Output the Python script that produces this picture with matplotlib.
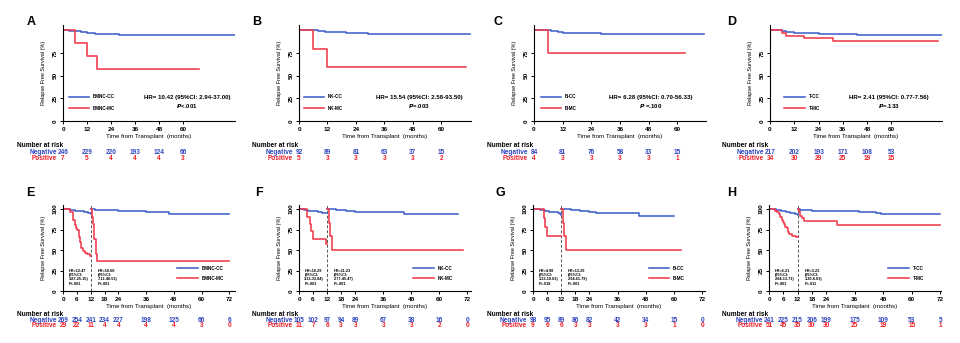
import matplotlib
matplotlib.use("Agg")
import matplotlib.pyplot as plt
import matplotlib.transforms as mtransforms

plt.rcParams['font.family'] = ['Liberation Sans', 'DejaVu Sans']
plt.rcParams['font.weight'] = 'bold'

BLUE = '#4060c8'
RED = '#f23a4a'
TAB_BLUE = '#2f45c0'
TAB_RED = '#f01e28'
LW = 1.15

# ---- full follow-up curves (top row) ----
a_cc_t = [0, 3, 6, 9, 12, 16, 20, 28, 36, 44, 46, 86]
a_cc_s = [100, 99.6, 99.0, 98.0, 96.8, 96.3, 95.9, 95.5, 95.2, 94.9, 94.5, 94.5]
a_mc_t = [0, 6, 12, 17, 68]
a_mc_s = [100, 85.7, 71.4, 57.1, 57.1]

b_cc_t = [0, 8, 11, 20, 29, 72]
b_cc_s = [100, 99.2, 98.2, 97.2, 96.0, 96.0]
b_mc_t = [0, 6, 12, 70.5]
b_mc_s = [100, 80.0, 60.0, 60.0]

c_cc_t = [0, 7, 10, 12, 20, 28, 71]
c_cc_s = [100, 99.2, 98.2, 97.4, 96.8, 95.7, 95.7]
c_mc_t = [0, 6, 63]
c_mc_s = [100, 75.0, 75.0]

d_cc_t = [0, 6, 8, 10, 12, 18, 24, 30, 38, 43, 85]
d_cc_s = [100, 99.5, 98.8, 97.8, 97.2, 96.9, 96.6, 96.2, 95.9, 94.8, 94.8]
d_mc_t = [0, 6, 8, 17, 31, 83]
d_mc_s = [100, 97.1, 94.1, 91.2, 87.8, 87.8]

# ---- landmark curves (bottom row): 0-12 months and from 12 months ----
e_cc_t1 = [0, 2, 3, 5, 7, 9, 11, 12]
e_cc_s1 = [100, 99.6, 98.9, 98.1, 97.2, 96.3, 95.2, 94.4]
e_mc_t1 = [0, 3.0, 4.2, 5.0, 5.6, 6.2, 6.8, 7.2, 7.9, 8.6, 9.4, 10.4, 11.5, 12]
e_mc_s1 = [100, 96.6, 86.6, 81.0, 77.5, 74.0, 66.0, 60.0, 53.0, 49.0, 47.0, 45.0, 42.5, 42.5]
e_cc_t2 = [12, 14, 18, 24, 30, 36, 42, 46, 72]
e_cc_s2 = [100, 99.4, 98.8, 98.2, 97.6, 97.0, 96.3, 94.6, 94.6]
e_mc_t2 = [12, 12.4, 12.8, 13.5, 14.1, 14.6, 72]
e_mc_s2 = [100, 90.9, 81.8, 63.6, 45.5, 36.4, 36.4]

f_cc_t1 = [0, 2, 4, 6, 8, 10, 12]
f_cc_s1 = [100, 99.0, 98.1, 97.1, 96.2, 95.2, 95.2]
f_mc_t1 = [0, 3.5, 4.5, 5.2, 6.0, 11.6, 12]
f_mc_s1 = [100, 90.9, 81.8, 72.7, 63.6, 57.3, 57.3]
f_cc_t2 = [12, 16, 20, 24, 28, 45, 68]
f_cc_s2 = [100, 99.0, 98.0, 97.0, 96.0, 94.0, 94.0]
f_mc_t2 = [12, 12.8, 13.4, 14.0, 70]
f_mc_s2 = [100, 83.3, 66.7, 50.0, 50.0]

g_cc_t1 = [0, 3, 5, 7, 9, 10.5, 11.5, 12]
g_cc_s1 = [100, 99.0, 97.9, 96.9, 95.9, 94.9, 93.9, 92.9]
g_mc_t1 = [0, 4.6, 5.3, 6.0, 12]
g_mc_s1 = [100, 88.9, 77.8, 66.7, 66.7]
g_cc_t2 = [12, 16, 20, 24, 27, 45, 60]
g_cc_s2 = [100, 98.8, 97.6, 96.4, 95.2, 91.8, 91.8]
g_mc_t2 = [12, 12.8, 13.4, 14.0, 63]
g_mc_s2 = [100, 83.3, 66.7, 50.0, 50.0]

h_cc_t1 = [0, 3, 5, 7, 9, 11, 12]
h_cc_s1 = [100, 99.2, 98.0, 96.7, 95.4, 94.0, 93.0]
h_mc_t1 = [0, 2.5, 3.5, 4.3, 4.8, 5.3, 5.8, 6.3, 6.9, 7.4, 8.0, 8.5, 9.8, 11.2, 12]
h_mc_s1 = [100, 98.0, 96.1, 94.1, 90.2, 86.3, 84.3, 82.4, 78.4, 76.5, 72.5, 69.6, 67.6, 65.6, 65.6]
h_cc_t2 = [12, 13, 14.5, 18, 24, 30, 38, 42, 45, 47, 72]
h_cc_s2 = [100, 99.2, 98.3, 97.9, 97.5, 97.1, 96.6, 96.0, 95.2, 93.5, 93.5]
h_mc_t2 = [12, 12.6, 13.2, 13.8, 14.6, 28.5, 72]
h_mc_s2 = [100, 97.1, 91.4, 88.6, 85.7, 80.6, 80.6]

# ---- numbers at risk ----
top_risk_t = [0, 12, 24, 36, 48, 60]
a_neg = [246, 229, 220, 193, 124, 66]
a_pos = [7, 5, 4, 4, 4, 3]
b_neg = [92, 89, 81, 63, 37, 15]
b_pos = [5, 3, 3, 3, 3, 2]
c_neg = [84, 81, 76, 58, 33, 15]
c_pos = [4, 3, 3, 3, 3, 1]
d_neg = [217, 202, 193, 171, 108, 53]
d_pos = [34, 30, 29, 25, 19, 15]

bot_risk_t = [0, 6, 12, 18, 24, 36, 48, 60, 72]
e_neg = [269, 254, 241, 234, 227, 198, 125, 66, 6]
e_pos = [29, 22, 11, 4, 4, 4, 4, 3, 0]
f_neg = [105, 102, 97, 94, 89, 67, 38, 16, 0]
f_pos = [11, 7, 6, 3, 3, 3, 3, 2, 0]
g_neg = [98, 95, 89, 86, 82, 42, 34, 15, 0]
g_pos = [9, 6, 6, 3, 3, 3, 3, 1, 0]
h_neg = [241, 225, 215, 206, 199, 175, 109, 53, 5]
h_pos = [51, 45, 35, 30, 30, 25, 19, 15, 1]

top_ticks = [0, 12, 24, 36, 48, 60]
bot_ticks = [0, 6, 12, 18, 24, 36, 48, 60, 72]

W, H = 960, 343
fig = plt.figure(figsize=(W / 100, H / 100), dpi=100)


def px_axes(left, top, width, height):
    return fig.add_axes([left / W, 1 - (top + height) / H, width / W, height / H])


def style_axes(ax, xlim, ylim, xticks, yticks):
    ax.set_xlim(*xlim)
    ax.set_ylim(*ylim)
    for s in ('top', 'right'):
        ax.spines[s].set_visible(False)
    for s in ('left', 'bottom'):
        ax.spines[s].set_linewidth(0.8)
    ax.set_xticks(xticks)
    ax.set_yticks(yticks)
    ax.set_yticklabels([str(v) for v in yticks], rotation=90, va='center')
    ax.tick_params(length=2.5, width=0.7, labelsize=4.6, pad=1.5)
    ax.set_xlabel('Time from Transplant  (months)', fontsize=4.4, labelpad=2)
    ax.set_ylabel('Relapse Free Survival (%)', fontsize=4.0)
    ax.yaxis.set_label_coords(-0.10, 0.5)


def risk_table(ax, times, neg, pos, y_title, y_neg, y_pos, x_title):
    trans = mtransforms.blended_transform_factory(ax.transData, fig.transFigure)
    lab = mtransforms.offset_copy(trans, fig=fig, x=-6, units='dots')
    fig.text(x_title / W, 1 - y_title / H, 'Number at risk', fontsize=4.7,
             va='center', ha='left', color='black')
    ax.text(0, 1 - y_neg / H, 'Negative', transform=lab, ha='right', va='center',
            fontsize=4.7, color=TAB_BLUE)
    ax.text(0, 1 - y_pos / H, 'Positive', transform=lab, ha='right', va='center',
            fontsize=4.7, color=TAB_RED)
    for t, n in zip(times, neg):
        ax.text(t, 1 - y_neg / H, str(n), transform=trans, ha='center', va='center',
                fontsize=4.7, color=TAB_BLUE)
    for t, n in zip(times, pos):
        ax.text(t, 1 - y_pos / H, str(n), transform=trans, ha='center', va='center',
                fontsize=4.7, color=TAB_RED)


# ---------------- top row ----------------
top_panels = [
    ('A', 63, 27, (0, 86), a_cc_t, a_cc_s, a_mc_t, a_mc_s, 'BMNC-CC', 'BMNC-MC',
     'HR= 10.42 (95%CI: 2.94-37.00)', '<.001', 0.72, 0.03, a_neg, a_pos, 17),
    ('B', 299, 252, (0, 72.5), b_cc_t, b_cc_s, b_mc_t, b_mc_s, 'NK-CC', 'NK-MC',
     'HR= 15.54 (95%CI: 2.58-93.50)', '=.003', 0.70, 0.025, b_neg, b_pos, 252),
    ('C', 534, 493, (0, 72), c_cc_t, c_cc_s, c_mc_t, c_mc_s, 'B-CC', 'B-MC',
     'HR= 6.28 (95%CI: 0.70-56.33)', ' =.100', 0.68, 0.035, c_neg, c_pos, 487),
    ('D', 770, 727, (0, 85), d_cc_t, d_cc_s, d_mc_t, d_mc_s, 'T-CC', 'T-MC',
     'HR= 2.41 (95%CI: 0.77-7.56)', '=.133', 0.69, 0.08, d_neg, d_pos, 722),
]

for (letter, left, lx, xlim, cct, ccs, mct, mcs, lab_cc, lab_mc,
     hr, pval, hx, legx, neg, pos, tx) in top_panels:
    ax = px_axes(left, 25, 172, 96)
    ax.step(cct, ccs, where='post', color=BLUE, lw=LW, label=lab_cc)
    ax.step(mct, mcs, where='post', color=RED, lw=LW, label=lab_mc)
    style_axes(ax, xlim, (0, 106), top_ticks, [0, 25, 50, 75])
    ax.legend(loc='lower left', bbox_to_anchor=(legx - 0.01, 0.08), frameon=False,
              fontsize=3.3, handlelength=4.5, labelspacing=1.5, borderpad=0,
              handletextpad=0.8)
    ax.text(hx, 0.25, hr, transform=ax.transAxes, ha='center', va='center', fontsize=4.4)
    ax.text(hx, 0.155, r'$\mathbf{\mathit{P}}$' + pval, transform=ax.transAxes,
            ha='center', va='center', fontsize=4.4)
    fig.text(lx / W, 1 - 22 / H, letter, fontsize=9, fontweight='bold', va='center')
    risk_table(ax, top_risk_t, neg, pos, 145, 152, 158.5, tx)

# ---------------- bottom row ----------------
bot_panels = [
    ('E', 63, 26, (0, 74.4), e_cc_t1, e_cc_s1, e_mc_t1, e_mc_s1, e_cc_t2, e_cc_s2,
     e_mc_t2, e_mc_s2, 'BMNC-CC', 'BMNC-MC',
     'HR=12.47\n(95%CI:\n1.87-25.15)\nP<.001', 'HR=18.60\n(95%CI:\n7.12-48.53)\nP<.001',
     0.66, e_neg, e_pos, 17),
    ('F', 299, 255, (0, 73.5), f_cc_t1, f_cc_s1, f_mc_t1, f_mc_s1, f_cc_t2, f_cc_s2,
     f_mc_t2, f_mc_s2, 'NK-CC', 'NK-MC',
     'HR=16.29\n(95%CI:\n3.13-33.84)\nP<.001', 'HR=11.23\n(95%CI:\n2.77-45.47)\nP=.001',
     0.66, f_neg, f_pos, 252),
    ('G', 533, 495, (0, 73.2), g_cc_t1, g_cc_s1, g_mc_t1, g_mc_s1, g_cc_t2, g_cc_s2,
     g_mc_t2, g_mc_s2, 'B-CC', 'B-MC',
     'HR=4.98\n(95%CI:\n1.33-18.63)\nP=.018', 'HR=13.29\n(95%CI:\n2.94-61.79)\nP=.001',
     0.67, g_neg, g_pos, 487),
    ('H', 769, 727, (0, 72.3), h_cc_t1, h_cc_s1, h_mc_t1, h_mc_s1, h_cc_t2, h_cc_s2,
     h_mc_t2, h_mc_s2, 'T-CC', 'T-MC',
     'HR=6.21\n(95%CI:\n2.84-13.71)\nP<.001', 'HR=3.23\n(95%CI:\n1.30-8.01)\nP=.011',
     0.69, h_neg, h_pos, 722),
]

for (letter, left, lx, xlim, cct1, ccs1, mct1, mcs1, cct2, ccs2, mct2, mcs2,
     lab_cc, lab_mc, txt1, txt2, legx, neg, pos, tx) in bot_panels:
    ax = px_axes(left, 205, 172, 86)
    ax.axvline(12, color='#555555', lw=0.7, ls=(0, (3, 2)))
    ax.step(cct1, ccs1, where='post', color=BLUE, lw=LW, label=lab_cc)
    ax.step(mct1, mcs1, where='post', color=RED, lw=LW, label=lab_mc)
    ax.step(cct2, ccs2, where='post', color=BLUE, lw=LW)
    ax.step(mct2, mcs2, where='post', color=RED, lw=LW)
    style_axes(ax, xlim, (0, 105), bot_ticks, [0, 25, 50, 75, 100])
    ax.legend(loc='lower left', bbox_to_anchor=(legx - 0.01, 0.09), frameon=False,
              fontsize=3.3, handlelength=4.5, labelspacing=1.1, borderpad=0,
              handletextpad=0.8)
    ax.text(2.3, 27, txt1, ha='left', va='top', fontsize=2.8, linespacing=1.1)
    ax.text(15.0, 27, txt2, ha='left', va='top', fontsize=2.8, linespacing=1.1)
    fig.text(lx / W, 1 - 193 / H, letter, fontsize=9, fontweight='bold', va='center')
    risk_table(ax, bot_risk_t, neg, pos, 314.5, 320, 325.5, tx)

fig.savefig('out.png', dpi=100)
